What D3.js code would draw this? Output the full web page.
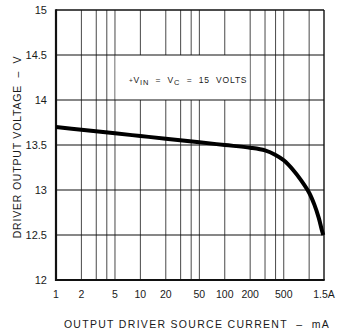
<!DOCTYPE html>
<html><head><meta charset="utf-8">
<script src="https://cdn.jsdelivr.net/npm/d3@7"></script>
<style>
html,body{margin:0;padding:0;background:#fff;}
svg text{font-family:"Liberation Sans",Arial,sans-serif;fill:#1a1a1a;white-space:pre;}
</style></head>
<body><svg id="c" width="338" height="333"></svg>
<script>
const currents = [1,2,5,10,20,50,100,200,300,400,500,650,800,1000,1150,1300,1400,1470];
const voltages = [13.70,13.67,13.63,13.60,13.57,13.53,13.50,13.47,13.44,13.39,13.33,13.22,13.11,12.97,12.84,12.69,12.57,12.50];
const xGrid = [2,3,4,5,10,20,30,40,50,100,200,300,400,500,1000];
const xTickValues = [1,2,5,10,20,50,100,200,500,1500];
const xTickLabels = ["1","2","5","10","20","50","100","200","500","1.5A"];
const yTicks = [12,12.5,13,13.5,14,14.5,15];
const yTickLabels = ["12","12.5","13","13.5","14","14.5","15"];

const svg = d3.select("#c");
const x = d3.scaleLog().domain([1,1500]).range([56,324]);
const y = d3.scaleLinear().domain([12,15]).range([280,10]);

// vertical grid
svg.append("g").selectAll("line").data(xGrid).join("line")
  .attr("x1",d=>x(d)).attr("x2",d=>x(d)).attr("y1",y(15)).attr("y2",y(12))
  .attr("stroke","#333").attr("stroke-width",0.9);

// annotation box (white) covering grid
svg.append("rect").attr("x",x(5)+0.6).attr("y",y(14.5)).attr("width",x(200)-x(5)-1.2)
  .attr("height",y(14)-y(14.5)).attr("fill","#fff");

// horizontal grid
svg.append("g").selectAll("line").data(yTicks.slice(1,-1)).join("line")
  .attr("x1",x(1)).attr("x2",x(1500)).attr("y1",d=>y(d)).attr("y2",d=>y(d))
  .attr("stroke","#111").attr("stroke-width",1.1);

// frame
svg.append("line").attr("x1",x(1)).attr("x2",x(1500)).attr("y1",y(15)).attr("y2",y(15)).attr("stroke","#111").attr("stroke-width",1.4);
svg.append("line").attr("x1",x(1500)).attr("x2",x(1500)).attr("y1",y(15)).attr("y2",y(12)).attr("stroke","#111").attr("stroke-width",1.4);
svg.append("line").attr("x1",x(1)).attr("x2",x(1)).attr("y1",y(15)-0.7).attr("y2",y(12)+1).attr("stroke","#111").attr("stroke-width",2.2);
svg.append("line").attr("x1",x(1)-1).attr("x2",x(1500)+0.7).attr("y1",y(12)).attr("y2",y(12)).attr("stroke","#111").attr("stroke-width",2.2);

// curve
const line = d3.line().x((d,i)=>x(currents[i])).y(d=>y(d)).curve(d3.curveCatmullRom.alpha(0.5));
svg.append("path").attr("d",line(voltages)).attr("fill","none").attr("stroke","#000")
  .attr("stroke-width",4).attr("stroke-linecap","butt");

// y tick labels
svg.append("g").selectAll("text").data(yTicks).join("text")
  .attr("x",47).attr("y",d=>y(d)).attr("dy","0.36em").attr("text-anchor","end")
  .attr("font-size",11).text((d,i)=>yTickLabels[i]);

// x tick labels
svg.append("g").selectAll("text").data(xTickValues).join("text")
  .attr("x",d=>x(d)).attr("y",297.5).attr("text-anchor","middle")
  .attr("font-size",10.5).text((d,i)=>xTickLabels[i]);

// axis titles
svg.append("text").attr("x",197).attr("y",328).attr("text-anchor","middle")
  .attr("font-size",10.5).attr("letter-spacing",1.3)
  .text("OUTPUT DRIVER SOURCE CURRENT  \u2013  mA");
svg.append("text").attr("transform","translate(21,147) rotate(-90)").attr("text-anchor","middle")
  .attr("font-size",10.5).attr("letter-spacing",0.8)
  .text("DRIVER OUTPUT VOLTAGE  \u2013  V");

// annotation
const ann = svg.append("text").attr("x",129).attr("y",83).attr("font-size",8.5).attr("letter-spacing",0.8);
ann.append("tspan").attr("font-size",6.5).text("+");
ann.append("tspan").text("V");
ann.append("tspan").attr("font-size",7.5).attr("dy",2).text("IN");
ann.append("tspan").attr("dy",-2).text("  =  V");
ann.append("tspan").attr("font-size",7.5).attr("dy",2).text("C");
ann.append("tspan").attr("dy",-2).text("  =  15  VOLTS");
</script></body></html>
